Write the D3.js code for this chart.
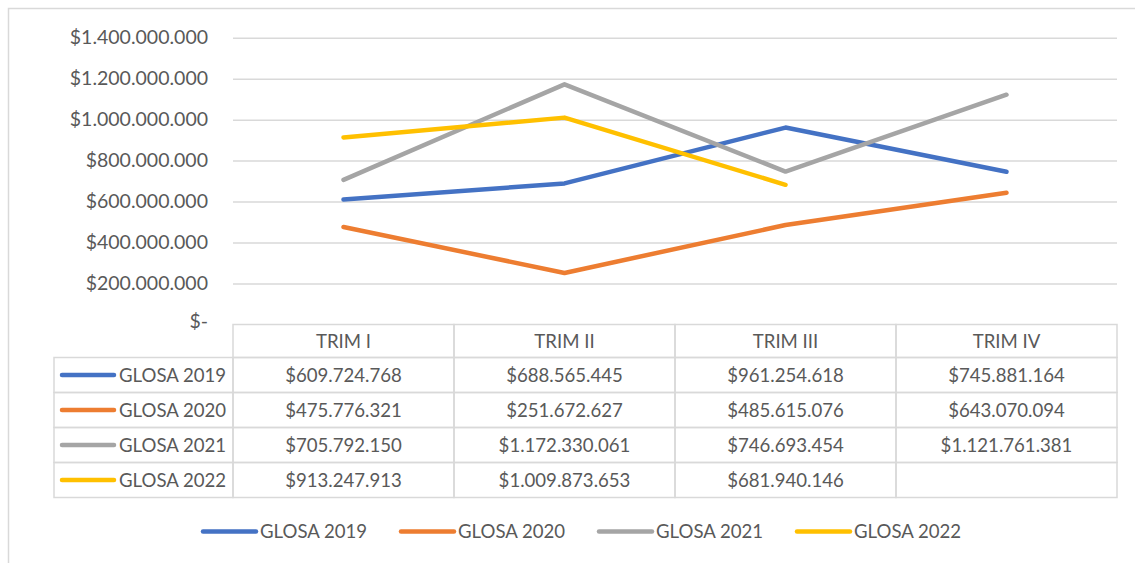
<!DOCTYPE html>
<html>
<head>
<meta charset="utf-8">
<script src="https://cdn.jsdelivr.net/npm/d3@7"></script>
<style>
  body { margin: 0; background: #fff; }
  svg text { font-family: Lato, "Open Sans", sans-serif; fill: #595959; }
</style>
</head>
<body>
<div id="chart"></div>
<script>
// data
const quarters = ["TRIM I", "TRIM II", "TRIM III", "TRIM IV"];
const seriesNames = ["GLOSA 2019", "GLOSA 2020", "GLOSA 2021", "GLOSA 2022"];
const glosa2019 = [609724768, 688565445, 961254618, 745881164];
const glosa2020 = [475776321, 251672627, 485615076, 643070094];
const glosa2021 = [705792150, 1172330061, 746693454, 1121761381];
const glosa2022 = [913247913, 1009873653, 681940146, null];
const yTicks = [0, 200000000, 400000000, 600000000, 800000000, 1000000000, 1200000000, 1400000000];
const colors = ["#4472C4", "#ED7D31", "#A5A5A5", "#FFC000"];

const allSeries = [glosa2019, glosa2020, glosa2021, glosa2022];

const W = 1135, H = 563;
const plotLeft = 233, plotRight = 1117;
const plotTop = 37.7, plotBottom = 324.5;
const tableLeft = 54;
const headerH = 33, rowH = 35;
const fs = 18.6;

// money format with dots
const money = d => d === 0 ? "$-" : "$" + d3.format(",")(d).replace(/,/g, ".");

const svg = d3.select("#chart").append("svg")
    .attr("width", W)
    .attr("height", H);

// outer frame
svg.append("rect")
    .attr("x", 8.5).attr("y", 8.5)
    .attr("width", W + 20).attr("height", H + 20)
    .attr("fill", "none")
    .attr("stroke", "#d9d9d9")
    .attr("stroke-width", 1.5);

const x = d3.scaleBand()
    .domain(quarters)
    .range([plotLeft, plotRight]);

const y = d3.scaleLinear()
    .domain([0, 1400000000])
    .range([plotBottom, plotTop]);

// y axis + gridlines
const yAxis = svg.append("g")
    .attr("transform", `translate(${plotLeft},0)`)
    .call(d3.axisLeft(y)
        .tickValues(yTicks)
        .tickSize(-(plotRight - plotLeft))
        .tickPadding(25)
        .tickFormat(money));

yAxis.select(".domain").remove();
yAxis.selectAll(".tick line")
    .attr("stroke", "#d9d9d9")
    .attr("stroke-width", 1.5)
    .filter(d => d === 0).remove();
yAxis.selectAll(".tick text")
    .attr("font-size", 19.5)
    .attr("fill", "#595959")
    .style("font-family", "Lato, sans-serif")
    .attr("dy", d => d === 0 ? "0.15em" : "0.32em");

// lines
const line = d3.line()
    .defined(d => d.v !== null)
    .x(d => x(d.q) + x.bandwidth() / 2)
    .y(d => y(d.v));

allSeries.forEach((s, i) => {
    const pts = s.map((v, j) => ({ q: quarters[j], v: v }));
    svg.append("path")
        .datum(pts)
        .attr("d", line)
        .attr("fill", "none")
        .attr("stroke", colors[i])
        .attr("stroke-width", 4.5)
        .attr("stroke-linecap", "round")
        .attr("stroke-linejoin", "round");
});

// data table
const table = svg.append("g");
const gridStroke = "#d9d9d9";
const rowsTop = plotBottom + headerH;
const tableBottom = rowsTop + rowH * allSeries.length;

// header cells
quarters.forEach(q => {
    table.append("rect")
        .attr("x", x(q)).attr("y", plotBottom)
        .attr("width", x.bandwidth()).attr("height", headerH)
        .attr("fill", "none").attr("stroke", gridStroke).attr("stroke-width", 1.5);
    table.append("text")
        .attr("x", x(q) + x.bandwidth() / 2)
        .attr("y", plotBottom + headerH / 2)
        .attr("dy", "0.35em")
        .attr("text-anchor", "middle")
        .attr("font-size", fs)
        .text(q);
});

// body rows
allSeries.forEach((s, i) => {
    const ry = rowsTop + i * rowH;
    table.append("rect")
        .attr("x", tableLeft).attr("y", ry)
        .attr("width", plotLeft - tableLeft).attr("height", rowH)
        .attr("fill", "none").attr("stroke", gridStroke).attr("stroke-width", 1.5);
    // legend key inside table
    table.append("line")
        .attr("x1", 62).attr("x2", 114)
        .attr("y1", ry + rowH / 2).attr("y2", ry + rowH / 2)
        .attr("stroke", colors[i])
        .attr("stroke-width", 4.5)
        .attr("stroke-linecap", "round");
    table.append("text")
        .attr("x", 119)
        .attr("y", ry + rowH / 2)
        .attr("dy", "0.35em")
        .attr("font-size", fs)
        .text(seriesNames[i]);

    s.forEach((v, j) => {
        const q = quarters[j];
        table.append("rect")
            .attr("x", x(q)).attr("y", ry)
            .attr("width", x.bandwidth()).attr("height", rowH)
            .attr("fill", "none").attr("stroke", gridStroke).attr("stroke-width", 1.5);
        if (v !== null) {
            table.append("text")
                .attr("x", x(q) + x.bandwidth() / 2)
                .attr("y", ry + rowH / 2)
                .attr("dy", "0.35em")
                .attr("text-anchor", "middle")
                .attr("font-size", fs)
                .text(money(v));
        }
    });
});

// bottom legend
const legend = svg.append("g")
    .attr("transform", `translate(201,${tableBottom + 34})`);

seriesNames.forEach((name, i) => {
    const g = legend.append("g").attr("transform", `translate(${i * 198},0)`);
    g.append("line")
        .attr("x1", 2).attr("x2", 55)
        .attr("stroke", colors[i])
        .attr("stroke-width", 4.5)
        .attr("stroke-linecap", "round");
    g.append("text")
        .attr("x", 59)
        .attr("dy", "0.35em")
        .attr("font-size", fs)
        .text(name);
});
</script>
</body>
</html>
